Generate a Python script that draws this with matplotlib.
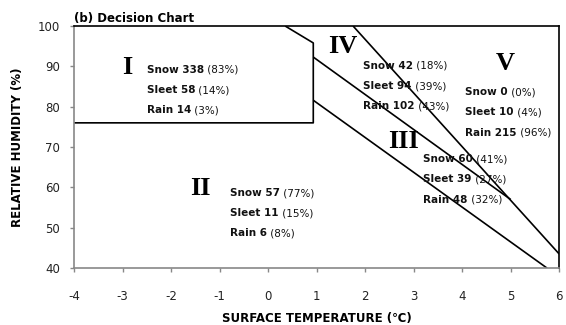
import matplotlib.pyplot as plt

# region boundaries (surface temperature, relative humidity)
box_x = [-4.0, 0.93, 0.93, 0.35]
box_y = [76.0, 76.0, 95.8, 100.0]
line_a_x = [0.93, 5.0]
line_a_y = [92.3, 57.0]
line_b_x = [1.75, 6.0]
line_b_y = [100.0, 43.5]
line_c_x = [0.93, 5.75]
line_c_y = [81.6, 40.0]

# region labels and counts
regions = ['I', 'II', 'III', 'IV', 'V']
roman_x = [-2.9, -1.4, 2.78, 1.53, 4.89]
roman_y = [89.8, 59.8, 71.5, 94.8, 90.8]
text_x = [-2.5, -0.78, 3.2, 1.96, 4.06]
text_y = [89.1, 58.6, 67.0, 90.1, 83.6]
snow = [338, 57, 60, 42, 0]
sleet = [58, 11, 39, 94, 10]
rain = [14, 6, 48, 102, 215]
snow_pct = [83, 77, 41, 18, 0]
sleet_pct = [14, 15, 27, 39, 4]
rain_pct = [3, 8, 32, 43, 96]

plt.rcParams['font.family'] = ['DejaVu Sans', 'Noto Sans CJK KR']
plt.rcParams['axes.unicode_minus'] = False

fig = plt.figure(figsize=(5.66, 3.25), dpi=100)
ax = fig.add_axes([0.131, 0.175, 0.857, 0.745])

for xs, ys in [(box_x, box_y), (line_a_x, line_a_y),
               (line_b_x, line_b_y), (line_c_x, line_c_y)]:
    ax.plot(xs, ys, color='black', linewidth=1.2, solid_capstyle='butt')

for i, r in enumerate(regions):
    ax.text(roman_x[i], roman_y[i], r, family='Liberation Serif',
            fontweight='bold', fontsize=19, ha='center', va='center')
    rows = [('Snow', snow[i], snow_pct[i]),
            ('Sleet', sleet[i], sleet_pct[i]),
            ('Rain', rain[i], rain_pct[i])]
    for k, (name, n, p) in enumerate(rows):
        t = ax.text(text_x[i], text_y[i] - 5.0 * k, f'{name} {n}',
                    fontsize=7.5, fontweight='bold', ha='left', va='center',
                    color='#111111')
        ax.annotate(f' ({p}%)', xy=(1, 0.5), xycoords=t, fontsize=7.5,
                    ha='left', va='center', color='#111111')

ax.set_xlim(-4, 6)
ax.set_ylim(40, 100)
ax.set_xticks(range(-4, 7))
ax.set_yticks(range(40, 101, 10))

for s in ['left', 'bottom']:
    ax.spines[s].set_color('#888888')
    ax.spines[s].set_linewidth(1.2)
for s in ['top', 'right']:
    ax.spines[s].set_color('black')
    ax.spines[s].set_linewidth(1.2)
ax.tick_params(colors='#888888', labelcolor='#222222', labelsize=8.5,
               length=3, width=1)
ax.tick_params(axis='x', pad=13)
ax.tick_params(axis='y', pad=7)

ax.set_xlabel('SURFACE TEMPERATURE (℃)', fontsize=8.5, fontweight='bold',
              labelpad=6)
ax.set_ylabel('RELATIVE HUMIDITY (%)', fontsize=8.5, fontweight='bold',
              labelpad=10)
ax.set_title('(b) Decision Chart', fontsize=8.5, fontweight='bold',
             loc='left', pad=3)

fig.savefig('out.png', dpi=100)
